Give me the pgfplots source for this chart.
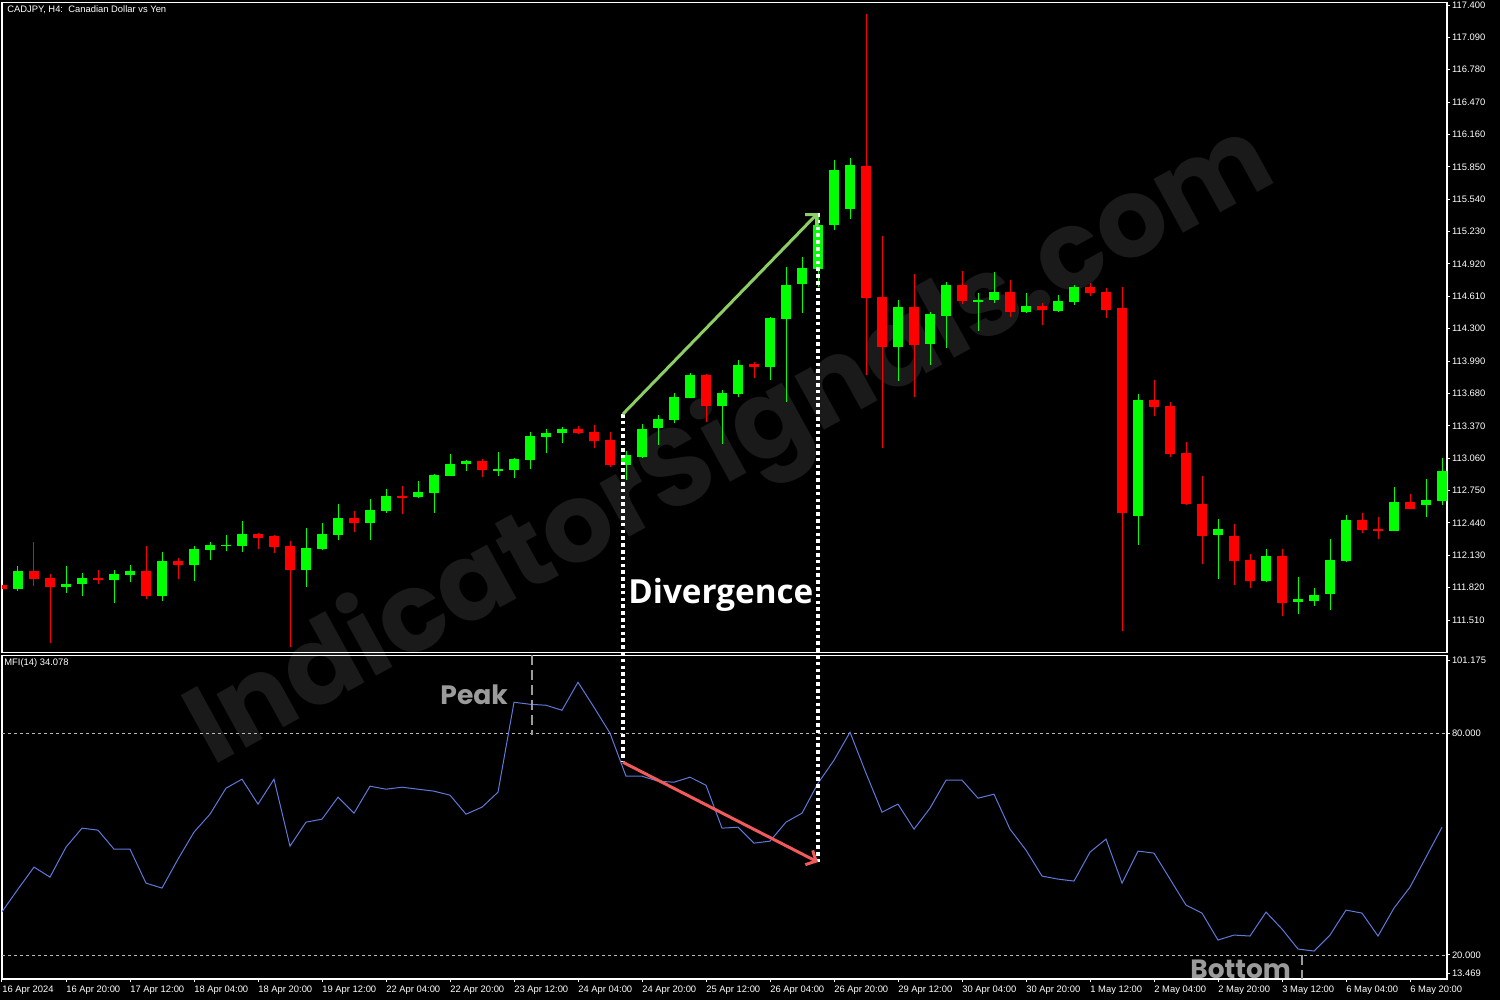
\documentclass[border=0pt]{standalone}
\usepackage{fontspec}
\setmainfont{Liberation Sans}
\newfontfamily\opensans{Open Sans}
\newfontfamily\poppins{Poppins}
\usepackage{pgfplots}
\usepackage{pgfplotstable}
\pgfplotsset{compat=1.18}
\usetikzlibrary{arrows.meta}

\definecolor{bull}{RGB}{0,255,0}
\definecolor{bear}{RGB}{255,0,0}
\definecolor{mfic}{RGB}{95,120,220}
\definecolor{uparr}{RGB}{140,205,100}
\definecolor{dnarr}{RGB}{240,90,90}
\definecolor{note}{RGB}{155,155,155}
\definecolor{wmark}{RGB}{26,26,26}
\definecolor{level}{RGB}{185,185,185}

% CADJPY H4 candles: bar index, open, high, low, close
\pgfplotstableread{
i o h l c
1 111.807 112.028 111.788 111.980
4 111.827 112.028 111.769 111.856
5 111.856 111.961 111.741 111.913
7 111.894 111.990 111.673 111.952
8 111.942 112.037 111.875 111.980
10 111.741 112.162 111.692 112.076
12 112.037 112.219 111.884 112.191
13 112.181 112.258 112.085 112.229
14 112.219 112.325 112.172 112.229
15 112.219 112.459 112.162 112.335
19 111.990 112.392 111.827 112.200
20 112.191 112.440 112.181 112.335
21 112.325 112.622 112.277 112.488
23 112.440 112.669 112.277 112.564
24 112.554 112.765 112.535 112.698
26 112.688 112.841 112.678 112.736
27 112.726 112.908 112.535 112.899
28 112.889 113.100 112.885 113.004
29 113.004 113.042 112.937 113.033
31 112.947 113.119 112.889 112.956
32 112.947 113.062 112.870 113.052
33 113.042 113.311 112.956 113.272
34 113.263 113.339 113.109 113.301
35 113.301 113.358 113.205 113.339
39 112.994 113.129 112.851 113.090
40 113.071 113.387 113.062 113.339
41 113.349 113.473 113.186 113.435
42 113.425 113.684 113.397 113.646
43 113.637 113.876 113.633 113.857
45 113.560 113.713 113.196 113.684
46 113.675 114.000 113.646 113.952
48 113.933 114.412 113.809 114.402
49 114.393 114.891 113.598 114.719
50 114.729 114.987 114.450 114.882
51 114.872 115.389 114.700 115.294
52 115.294 115.915 115.246 115.820
53 115.447 115.935 115.351 115.868
56 114.125 114.575 113.799 114.508
58 114.154 114.460 113.952 114.441
59 114.421 114.748 114.115 114.719
61 114.565 114.642 114.278 114.575
62 114.575 114.844 114.546 114.652
64 114.460 114.642 114.450 114.518
66 114.470 114.623 114.460 114.565
67 114.556 114.719 114.527 114.700
71 112.507 113.675 112.229 113.617
76 112.325 112.478 111.903 112.382
79 111.884 112.191 111.875 112.124
81 111.683 111.923 111.568 111.712
82 111.692 111.817 111.645 111.750
83 111.760 112.287 111.606 112.085
84 112.076 112.516 112.070 112.469
87 112.363 112.784 112.358 112.641
89 112.612 112.861 112.497 112.660
90 112.650 113.062 112.612 112.937
}\upbars

\pgfplotstableread{
i o h l c
0 111.846 111.865 111.788 111.807
2 111.980 112.258 111.836 111.903
3 111.913 111.952 111.290 111.827
6 111.913 111.990 111.856 111.894
9 111.980 112.219 111.712 111.741
11 112.076 112.105 111.903 112.037
16 112.335 112.344 112.191 112.296
17 112.315 112.325 112.152 112.210
18 112.219 112.267 111.252 111.990
22 112.488 112.554 112.354 112.440
25 112.698 112.793 112.526 112.688
30 113.033 113.052 112.880 112.947
36 113.339 113.368 113.291 113.301
37 113.311 113.378 113.157 113.224
38 113.234 113.311 112.975 112.994
44 113.857 113.866 113.406 113.560
47 113.962 113.981 113.828 113.933
54 115.858 117.314 113.857 114.594
55 114.604 115.188 113.157 114.125
57 114.508 114.824 113.646 114.144
60 114.719 114.853 114.537 114.565
63 114.652 114.767 114.412 114.460
65 114.518 114.546 114.336 114.479
68 114.700 114.738 114.614 114.642
69 114.652 114.690 114.402 114.479
70 114.498 114.700 111.405 112.535
72 113.617 113.809 113.464 113.550
73 113.560 113.598 113.071 113.100
74 113.109 113.215 112.612 112.622
75 112.622 112.889 112.047 112.315
77 112.315 112.430 111.846 112.076
78 112.085 112.143 111.817 111.884
80 112.124 112.191 111.549 111.673
85 112.469 112.535 112.344 112.373
86 112.382 112.497 112.287 112.363
88 112.641 112.717 112.570 112.574
}\downbars

% MFI(14)
\pgfplotstableread{
i m
0 31.69
1 37.83
2 43.79
3 41.08
4 49.20
5 54.34
6 53.80
7 48.66
8 48.66
9 39.45
10 38.10
11 45.95
12 53.26
13 58.13
14 65.17
15 67.61
16 60.84
17 67.61
18 49.47
19 55.97
20 56.78
21 62.73
22 58.40
23 65.71
24 64.90
25 65.44
26 64.90
27 64.36
28 63.28
29 58.13
30 60.03
31 64.09
32 88.45
33 87.91
34 87.64
35 86.29
36 93.87
37 87.10
38 80.06
39 68.42
40 68.42
41 67.06
42 66.79
43 68.15
44 65.98
45 54.34
46 54.61
47 50.28
48 50.82
49 55.97
50 58.40
51 66.52
52 72.75
53 80.33
54 69.23
55 58.67
56 60.84
57 54.07
58 59.76
59 67.34
60 67.34
61 62.46
62 63.55
63 54.07
64 48.39
65 41.35
66 40.54
67 40.00
68 47.85
69 51.37
70 39.45
71 48.12
72 47.58
73 40.54
74 33.50
75 31.33
76 24.02
77 25.38
78 25.11
79 31.60
80 27.00
81 21.59
82 21.05
83 25.38
84 32.14
85 31.33
86 25.11
87 32.69
88 38.37
89 46.49
90 54.61
}\mfidata

\pgfplotsset{
  mt4/.style={
    scale only axis,
    anchor=north west,
    width=722.5pt,
    xmin=0, xmax=90.3125,
    axis line style={white, line width=0.6pt},
    every tick/.style={white, line width=0.5pt},
    major tick length=1.5pt,
    tick align=outside,
    ytick pos=right,
    yticklabel pos=right,
    ticklabel style={white, font=\fontsize{4.7}{5}\selectfont},
    yticklabel style={inner xsep=0.8pt},
    /pgf/number format/assume math mode=true,
  },
  wick/.style={forget plot, draw=none, no markers,
    error bars/.cd, y dir=plus, y explicit, error mark=none,
    error bar style={draw=#1, line width=0.5pt}},
  body/.style={forget plot, draw=none, no markers,
    error bars/.cd, y dir=both, y explicit, error mark=none,
    error bar style={draw=#1, line width=5.4pt}},
}

\begin{document}
\begin{tikzpicture}
\path[use as bounding box, fill=black] (0,0) rectangle (750pt,-500pt);

% watermark
\node[wmark, rotate=28.8, font=\poppins\bfseries\fontsize{55}{57}\selectfont]
  at (366pt,-224pt) {IndicatorSignals.com};

% price panel
\begin{axis}[mt4,
  at={(1pt,-1.25pt)}, height=325pt,
  ymin=111.199, ymax=117.424,
  xtick=\empty,
  ytick={111.51,111.82,112.13,112.44,112.75,113.06,113.37,113.68,113.99,114.30,
         114.61,114.92,115.23,115.54,115.85,116.16,116.47,116.78,117.09,117.40},
  yticklabels={111.510,111.820,112.130,112.440,112.750,113.060,113.370,113.680,113.990,114.300,
               114.610,114.920,115.230,115.540,115.850,116.160,116.470,116.780,117.090,117.400},
]
\addplot[wick=bull] table[x=i, y=l, y error expr=\thisrow{h}-\thisrow{l}] {\upbars};
\addplot[wick=bear] table[x=i, y=l, y error expr=\thisrow{h}-\thisrow{l}] {\downbars};
\addplot[body=bull] table[x=i, y expr={(\thisrow{o}+\thisrow{c})/2},
  y error expr={max(abs(\thisrow{c}-\thisrow{o})/2,0.008)}] {\upbars};
\addplot[body=bear] table[x=i, y expr={(\thisrow{o}+\thisrow{c})/2},
  y error expr={max(abs(\thisrow{c}-\thisrow{o})/2,0.008)}] {\downbars};
\coordinate (gA) at (axis cs:38.81,113.483);
\coordinate (gB) at (axis cs:51.0,115.408);
\end{axis}

% MFI panel
\begin{axis}[mt4,
  at={(1pt,-327.65pt)}, height=161.85pt,
  ymin=13.469, ymax=101.175,
  xtick={0,4,...,88},
  xtick pos=bottom,
  xticklabels={16 Apr 2024,16 Apr 20:00,17 Apr 12:00,18 Apr 04:00,18 Apr 20:00,19 Apr 12:00,
    22 Apr 04:00,22 Apr 20:00,23 Apr 12:00,24 Apr 04:00,24 Apr 20:00,25 Apr 12:00,
    26 Apr 04:00,26 Apr 20:00,29 Apr 12:00,30 Apr 04:00,30 Apr 20:00,1 May 12:00,
    2 May 04:00,2 May 20:00,3 May 12:00,6 May 04:00,6 May 20:00},
  xticklabel style={anchor=north west, inner xsep=0pt, yshift=1.4pt},
  ytick={15.09,20,80,99.82},
  yticklabels={13.469,20.000,80.000,101.175},
]
\addplot[level, line width=0.4pt, dash pattern=on 1.5pt off 1.5pt, forget plot]
  coordinates {(0,80) (91,80)};
\addplot[level, line width=0.4pt, dash pattern=on 1.5pt off 1.5pt, forget plot]
  coordinates {(0,20) (91,20)};
\addplot[mfic, line width=0.5pt] table[x=i, y=m] {\mfidata};
\coordinate (rA) at (axis cs:38.81,72.2);
\coordinate (rB) at (axis cs:51.0,45.14);
\coordinate (pkT) at (axis cs:33.125,101.175);
\coordinate (pkB) at (axis cs:33.125,79.5);
\coordinate (btT) at (axis cs:81.25,20);
\coordinate (btB) at (axis cs:81.25,13.469);
\end{axis}

% labels
\node[anchor=west, white, inner sep=0pt, font=\fontsize{4.7}{5}\selectfont]
  at (3.5pt,-4.6pt) {CADJPY, H4:~~Canadian Dollar vs Yen};
\node[anchor=west, white, inner sep=0pt, font=\fontsize{4.7}{5}\selectfont]
  at (2pt,-331.5pt) {MFI(14) 34.078};

% annotations
\draw[white, line width=1.8pt, dash pattern=on 1.8pt off 1.6pt] (gA) -- (rA);
\draw[white, line width=1.8pt, dash pattern=on 1.8pt off 1.6pt] (gB) -- (rB);
\draw[uparr, line width=1.5pt, -{Straight Barb[length=4pt,width=8pt]}] (gA) -- (gB);
\draw[dnarr, line width=1.5pt, -{Straight Barb[length=4pt,width=8pt]}] (rA) -- (rB);
\draw[note, line width=1.4pt, dash pattern=on 5pt off 2.5pt] (pkT) -- (pkB);
\draw[note, line width=1.4pt, dash pattern=on 5pt off 2.5pt] (btT) -- (btB);

\node[anchor=base west, white, inner sep=0pt, font=\opensans\bfseries\fontsize{16.6}{17}\selectfont]
  at (314pt,-301.5pt) {Divergence};
\node[anchor=base west, note, inner sep=0pt, font=\poppins\bfseries\fontsize{13.3}{14}\selectfont]
  at (220pt,-352pt) {Peak};
\node[anchor=base west, note, inner sep=0pt, font=\poppins\bfseries\fontsize{13.2}{14}\selectfont]
  at (595pt,-489pt) {Bottom};
\end{tikzpicture}
\end{document}
